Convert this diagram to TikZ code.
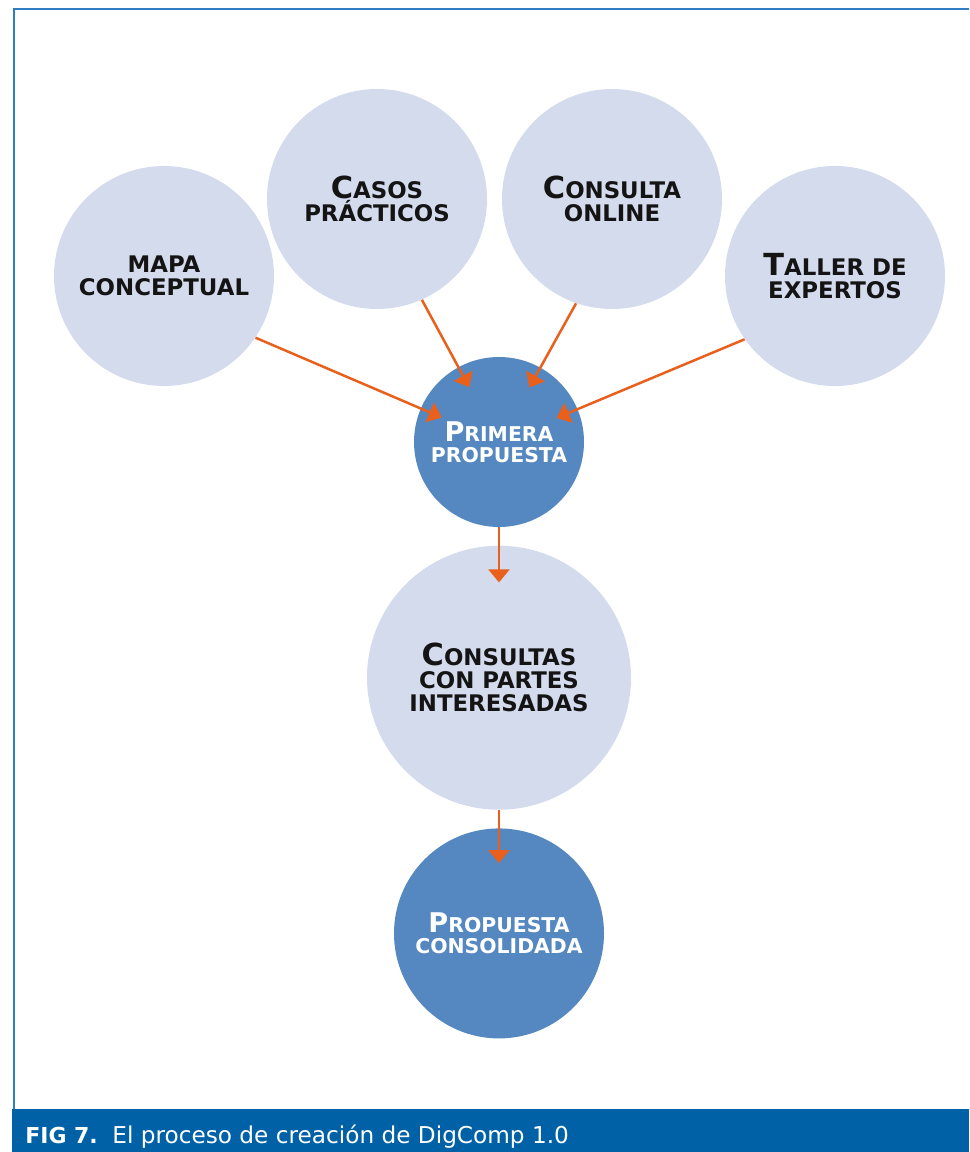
\documentclass[tikz,border=0pt]{standalone}
\usepackage{fontspec}
\setmainfont{DejaVu Sans}
\usepackage{graphicx}
\usetikzlibrary{arrows.meta, positioning}

\definecolor{discpale}{HTML}{D3DBEC}
\definecolor{discdark}{HTML}{5588C0}
\definecolor{arrorange}{HTML}{E8601C}
\definecolor{barblue}{HTML}{0061A6}
\definecolor{frameblue}{HTML}{2F7DC3}
% enlarged first letter, small-caps look
\newcommand{\bigini}[1]{\scalebox{1.33}{#1}}
\lineskiplimit=-20pt

\begin{document}
\begin{tikzpicture}[x=0.2mm, y=-0.2mm,
  disc/.style={circle, fill=discpale, align=center, inner sep=0pt, text=black!92,
               font=\fontsize{13}{13.1}\selectfont\bfseries},
  hub/.style={disc, fill=discdark, text=white,
              font=\fontsize{11.6}{11.8}\selectfont\bfseries},
  arr/.style={-{Triangle[length=2.6mm, width=4.2mm]}, line width=0.5mm,
              draw=arrorange, shorten >=-4.6mm}
]
  \useasboundingbox (0,0) rectangle (969,1152);

  % frame and caption bar
  \draw[frameblue, line width=0.4mm] (969,9) -- (14,9) -- (14,1109);
  \fill[barblue] (12,1109) rectangle (969,1152);
  \node[anchor=base west, inner sep=0pt, text=white,
        font=\fontsize{12.5}{12.5}\selectfont\bfseries] (fig) at (25,1143) {FIG 7.};
  \node[anchor=base west, inner sep=0pt, text=white,
        font=\fontsize{13.2}{13.2}\selectfont] (cap) at (112,1143) {El proceso de creación de DigComp 1.0};

  % inputs, upper arc
  \node[disc, minimum size=44mm] (mapa)   at (164,276) {MAPA\\CONCEPTUAL};
  \node[disc, minimum size=44mm] (casos)  at (377,199) {\bigini{C}ASOS\\PRÁCTICOS};
  \node[disc, minimum size=44mm] (online) at (612,199) {\bigini{C}ONSULTA\\ONLINE};
  \node[disc, minimum size=44mm] (taller) at (835,276) {\bigini{T}ALLER DE\\EXPERTOS};

  % centre column, top to bottom
  \node[hub, minimum size=34mm] (prim) at (499,442) {\bigini{P}RIMERA\\PROPUESTA};
  \node[disc, minimum size=52.8mm, below=3.6mm of prim] (cons)
       {\bigini{C}ONSULTAS\\CON PARTES\\INTERESADAS};
  \node[hub, minimum size=42mm, below=3.6mm of cons] (final)
       {\bigini{P}ROPUESTA\\CONSOLIDADA};

  \draw[arr] (mapa.-34.5) -- (prim);
  \draw[arr] (casos.-66.6) -- (prim);
  \draw[arr] (online.-109) -- (prim);
  \draw[arr] (taller.-145) -- (prim);
  \draw[arr, shorten >=-7.4mm] (prim) -- (cons);
  \draw[arr, shorten >=-7mm]   (cons) -- (final);
\end{tikzpicture}
\end{document}
